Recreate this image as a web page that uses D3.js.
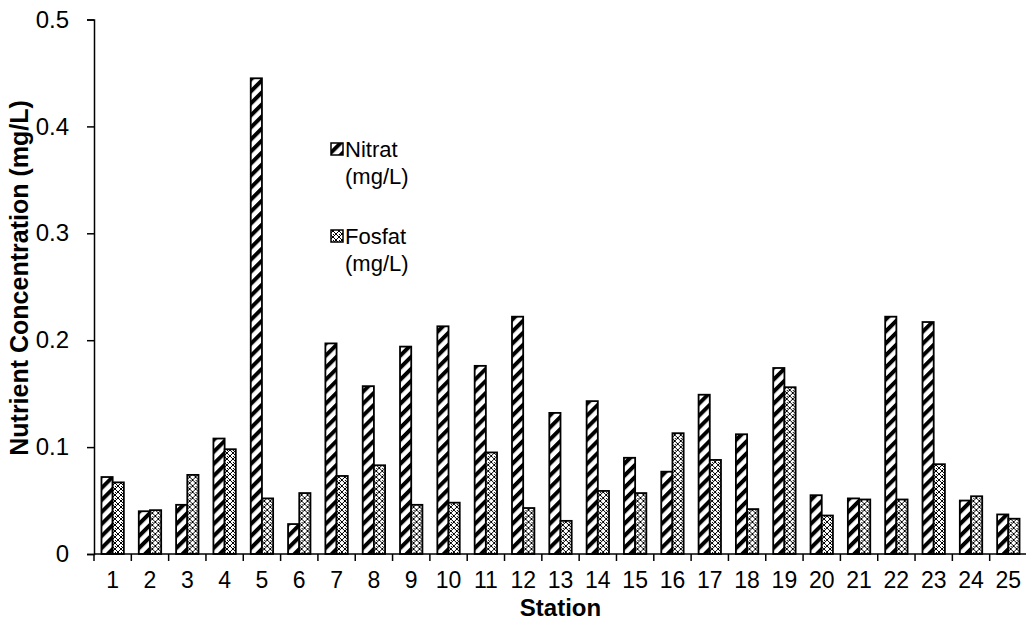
<!DOCTYPE html>
<html>
<head>
<meta charset="utf-8">
<script src="https://cdn.jsdelivr.net/npm/d3@7"></script>
<style>
  body { margin: 0; background: #fff; }
  svg { display: block; font-family: "Liberation Sans", Arial, sans-serif; }
</style>
</head>
<body>
<svg id="chart" width="1026" height="639"></svg>
<script>
// Station numbers and nutrient readings (mg/L)
var stations = ["1","2","3","4","5","6","7","8","9","10","11","12","13","14","15","16","17","18","19","20","21","22","23","24","25"];
var nitrat = [0.072, 0.040, 0.046, 0.108, 0.445, 0.028, 0.197, 0.157, 0.194, 0.213, 0.176, 0.222, 0.132, 0.143, 0.090, 0.077, 0.149, 0.112, 0.174, 0.055, 0.052, 0.222, 0.217, 0.050, 0.037];
var fosfat = [0.067, 0.041, 0.074, 0.098, 0.052, 0.057, 0.073, 0.083, 0.046, 0.048, 0.095, 0.043, 0.031, 0.059, 0.057, 0.113, 0.088, 0.042, 0.156, 0.036, 0.051, 0.051, 0.084, 0.054, 0.033];
var seriesNames = ["Nitrat", "Fosfat"];
var yTicks = [0, 0.1, 0.2, 0.3, 0.4, 0.5];

var svg = d3.select("#chart");

// patterns: wide upward diagonal for Nitrat, dotted diamond for Fosfat
var defs = svg.append("defs");
var diag = defs.append("pattern")
  .attr("id", "pat-nitrat")
  .attr("patternUnits", "userSpaceOnUse")
  .attr("width", 8.5).attr("height", 8.5)
  .attr("patternTransform", "rotate(45)");
diag.append("rect").attr("width", 8.5).attr("height", 8.5).attr("fill", "#fff");
diag.append("rect").attr("width", 4).attr("height", 8.5).attr("fill", "#000");

var dots = defs.append("pattern")
  .attr("id", "pat-fosfat")
  .attr("patternUnits", "userSpaceOnUse")
  .attr("width", 6).attr("height", 6);
dots.append("rect").attr("width", 6).attr("height", 6).attr("fill", "#fff");
d3.range(6).forEach(function(i) {
  dots.append("rect").attr("x", i).attr("y", i).attr("width", 1).attr("height", 1).attr("fill", "#000");
  dots.append("rect").attr("x", 5 - i).attr("y", i).attr("width", 1).attr("height", 1).attr("fill", "#000");
});
dots.append("rect").attr("x", 3).attr("y", 0).attr("width", 1).attr("height", 1).attr("fill", "#000");

var fills = { Nitrat: "url(#pat-nitrat)", Fosfat: "url(#pat-fosfat)" };

// plot area edges
var plotL = 94, plotR = 1027, plotT = 19.5, plotB = 554;

var x0 = d3.scaleBand().domain(stations).range([plotL, plotR]).padding(0);
var x1 = d3.scaleBand().domain(seriesNames).range([0, x0.bandwidth()])
  .paddingInner(0).paddingOuter(0.667);
var y = d3.scaleLinear().domain([0, 0.5]).range([plotB, plotT]);

var rows = stations.map(function(s, i) {
  return { station: s, Nitrat: nitrat[i], Fosfat: fosfat[i] };
});

// bars
var groups = svg.append("g").selectAll("g")
  .data(rows)
  .enter().append("g")
  .attr("transform", function(d) { return "translate(" + x0(d.station) + ",0)"; });

groups.selectAll("rect")
  .data(function(d) { return seriesNames.map(function(k) { return { key: k, value: d[k] }; }); })
  .enter().append("rect")
  .attr("x", function(d) { return x1(d.key); })
  .attr("y", function(d) { return y(d.value); })
  .attr("width", x1.bandwidth())
  .attr("height", function(d) { return plotB - y(d.value); })
  .attr("fill", function(d) { return fills[d.key]; })
  .attr("stroke", "#000")
  .attr("stroke-width", 1.8);

// y axis
var yAxis = d3.axisLeft(y)
  .tickValues(yTicks)
  .tickSize(7)
  .tickPadding(18)
  .tickFormat(function(d) { return d === 0 ? "0" : d3.format(".1f")(d); });
var gy = svg.append("g").attr("transform", "translate(" + plotL + ",0)").call(yAxis);
gy.select(".domain").attr("stroke-width", 1.5);
gy.selectAll(".tick line").attr("stroke-width", 1.5);
gy.selectAll("text").attr("font-size", 24).attr("fill", "#000");

// x axis, ticks between categories
var xAxis = d3.axisBottom(x0).tickSize(0).tickPadding(18);
var gx = svg.append("g").attr("transform", "translate(0," + plotB + ")").call(xAxis);
gx.select(".domain").attr("d", "M" + plotL + ",0H" + plotR).attr("stroke-width", 1.5);
gx.selectAll("text").attr("font-size", 23).attr("fill", "#000");
gx.selectAll(".sep")
  .data(stations)
  .enter().append("line")
  .attr("class", "sep")
  .attr("x1", function(d) { return x0(d); })
  .attr("x2", function(d) { return x0(d); })
  .attr("y1", 0).attr("y2", 7)
  .attr("stroke", "#000").attr("stroke-width", 1.5);

// axis titles
svg.append("text")
  .attr("x", (plotL + plotR) / 2).attr("y", 616)
  .attr("text-anchor", "middle")
  .attr("font-size", 24).attr("font-weight", "bold")
  .text("Station");

svg.append("text")
  .attr("transform", "translate(28,278) rotate(-90)")
  .attr("text-anchor", "middle")
  .attr("font-size", 25).attr("font-weight", "bold")
  .text("Nutrient Concentration (mg/L)");

// legend
var legend = svg.append("g");
var legendY = { Nitrat: 149, Fosfat: 236 };
seriesNames.forEach(function(k) {
  var ly = legendY[k];
  legend.append("rect")
    .attr("x", 331).attr("y", ly - 6).attr("width", 12).attr("height", 12)
    .attr("fill", fills[k]).attr("stroke", "#000").attr("stroke-width", 1.5);
  var t = legend.append("text")
    .attr("x", 345).attr("y", ly + 8)
    .attr("font-size", 22);
  t.append("tspan").text(k);
  t.append("tspan").attr("x", 345).attr("dy", 27).text("(mg/L)");
});
</script>
</body>
</html>
